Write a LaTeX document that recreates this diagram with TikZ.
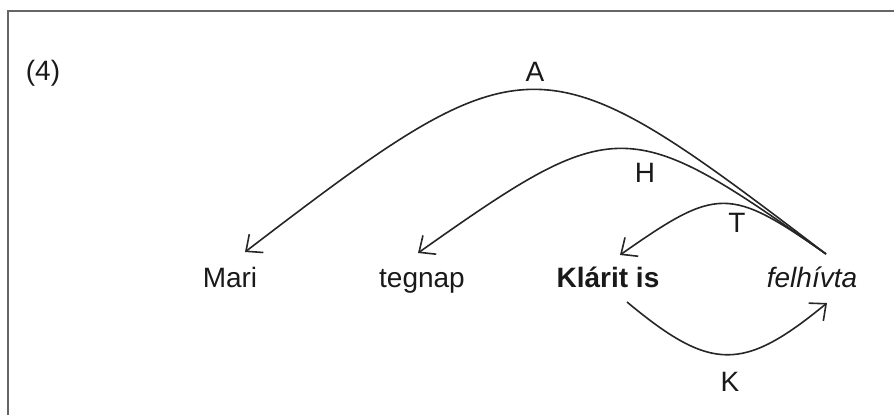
\documentclass[tikz,border=0pt]{standalone}
\usepackage{fontspec}
\setmainfont{Liberation Sans}
\usetikzlibrary{arrows.meta}
\begin{document}
\begin{tikzpicture}[x=1pt,y=-1pt,
  word/.style={anchor=base,inner sep=0pt,text=black!90},
  lab/.style={inner sep=0pt,text=black!90},
  arcline/.style={line width=1.6pt,draw=black!85,-{Straight Barb[length=13pt,width=23pt,line width=1.6pt]}},
  framel/.style={line width=2pt,draw=black!60},
  font=\fontsize{28}{33}\selectfont]
\useasboundingbox (0,0) rectangle (894,415);
\draw[framel] (8,415) -- (8,11) -- (894,11);
\node[lab] (ex) at (43,73) {(4)};
\node[word] (mari) at (230,287) {Mari};
\node[word] (tegnap) at (422,287) {tegnap};
\node[word,font=\fontsize{28}{33}\selectfont\bfseries] (klarit) at (608,287) {Klárit is};
\node[word,font=\fontsize{28}{33}\selectfont\itshape] (felh) at (812,287) {felhívta};
\coordinate (src) at ([shift={(14,-33)}]felh.base);
\coordinate (tipM) at ([shift={(15,-35)}]mari.base);
\coordinate (tipH) at ([shift={(-4,-34)}]tegnap.base);
\coordinate (tipT) at ([shift={(12,-32)}]klarit.base);
\coordinate (kst) at ([shift={(19,15)}]klarit.base);
\coordinate (tipK) at ([shift={(15,16)}]felh.base);
\draw[arcline] (src) .. controls (540,36) and (530,34) .. (tipM);
\draw[arcline] (src) .. controls (628,114) and (616,113) .. (tipH);
\draw[arcline] (src) .. controls (729,186) and (717,187) .. (tipT);
\draw[arcline] (kst) .. controls (711,372) and (743,372) .. (tipK);
\node[lab] (lA) at (535,72) {A};
\node[lab] (lH) at (645,173) {H};
\node[lab] (lT) at (737,223) {T};
\node[lab] (lK) at (730,382) {K};
\end{tikzpicture}
\end{document}
